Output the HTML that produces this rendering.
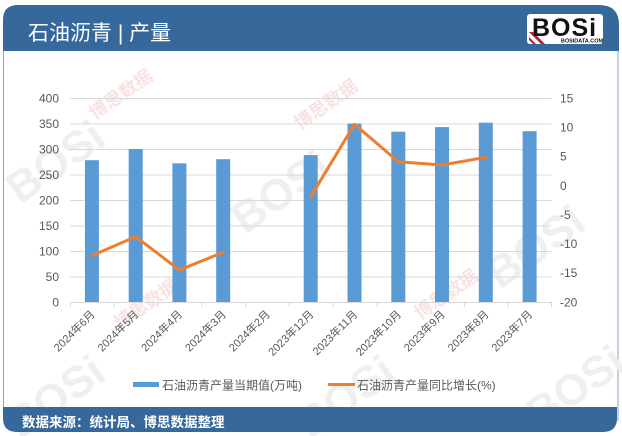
<!DOCTYPE html>
<html>
<head>
<meta charset="utf-8">
<style>
  html,body{margin:0;padding:0;background:#fff;}
  body{width:622px;height:436px;overflow:hidden;}
  svg{display:block;}
  text{font-family:"Liberation Sans","Noto Sans CJK SC",sans-serif;}
</style>
</head>
<body>
<svg width="622" height="436" viewBox="0 0 622 436" xmlns="http://www.w3.org/2000/svg">
  <!-- frame white area -->
  <rect x="3.5" y="40" width="614.5" height="380" fill="#ffffff" stroke="#8aa4c4" stroke-width="1"/>

  <!-- watermarks -->
  <g fill="#efefef" font-weight="bold" font-size="44" font-family="Liberation Sans, sans-serif">
    <text transform="translate(20,205) rotate(-35)">BOSi</text>
    <text transform="translate(245,235) rotate(-35)">BOSi</text>
    <text transform="translate(500,290) rotate(-35)">BOSi</text>
    <text transform="translate(20,440) rotate(-35)">BOSi</text>
    <text transform="translate(310,440) rotate(-35)">BOSi</text>
    <text transform="translate(540,430) rotate(-35)">BOSi</text>
  </g>
  <g fill="#f8e2e2" font-size="18" font-weight="bold">
    <text transform="translate(95,120) rotate(-35)">博思数据</text>
    <text transform="translate(300,130) rotate(-35)">博思数据</text>
    <text transform="translate(420,320) rotate(-35)">博思数据</text>
    <text transform="translate(120,330) rotate(-35)">博思数据</text>
  </g>

  <!-- header -->
  <path d="M3,51 L3,20 Q3,5 18,5 L599,5 Q619,5 619,25 L619,51 Z" fill="#36689b"/>
  <text x="28" y="40" font-size="21" fill="#ffffff">石油沥青 | 产量</text>

  <!-- logo -->
  <rect x="527" y="14" width="76" height="30" rx="3" fill="#ffffff"/>
  <g fill="#b5252e">
    <polygon points="529,32 533,32 545,44 541,44"/>
    <polygon points="529,37 529,40 533,44 536,44"/>
  </g>
  <text x="532" y="36" font-size="25" font-weight="bold" fill="#111" font-family="Liberation Sans, sans-serif" letter-spacing="1">BOSi</text>
  <text x="582" y="42.5" font-size="5.5" font-weight="bold" fill="#111" text-anchor="middle" font-family="Liberation Sans, sans-serif">BOSIDATA.COM</text>

  <!-- footer -->
  <path d="M3,407 L617,407 L617,418 Q617,432 603,432 L17,432 Q3,432 3,418 Z" fill="#36689b"/>
  <text x="22" y="427" font-size="13.5" font-weight="bold" fill="#ffffff">数据来源：统计局、博思数据整理</text>

  <!-- gridlines -->
  <g stroke="#d9d9d9" stroke-width="1">
    <line x1="70" y1="98.5" x2="551.5" y2="98.5"/>
    <line x1="70" y1="124" x2="551.5" y2="124"/>
    <line x1="70" y1="149.5" x2="551.5" y2="149.5"/>
    <line x1="70" y1="175" x2="551.5" y2="175"/>
    <line x1="70" y1="200.5" x2="551.5" y2="200.5"/>
    <line x1="70" y1="226" x2="551.5" y2="226"/>
    <line x1="70" y1="251.5" x2="551.5" y2="251.5"/>
    <line x1="70" y1="277" x2="551.5" y2="277"/>
  </g>

  <!-- bars -->
  <g fill="#5b9bd5">
    <rect x="84.9" y="160.2" width="14" height="141.8"/>
    <rect x="128.7" y="149" width="14" height="153"/>
    <rect x="172.4" y="163.3" width="14" height="138.7"/>
    <rect x="216.2" y="159.2" width="14" height="142.8"/>
    <rect x="303.7" y="155.1" width="14" height="146.9"/>
    <rect x="347.5" y="123.5" width="14" height="178.5"/>
    <rect x="391.3" y="131.7" width="14" height="170.3"/>
    <rect x="435" y="127.1" width="14" height="174.9"/>
    <rect x="478.8" y="122.7" width="14" height="179.3"/>
    <rect x="522.6" y="131.2" width="14" height="170.8"/>
  </g>

  <!-- x axis -->
  <g stroke="#d9d9d9" stroke-width="1">
    <line x1="70" y1="302.5" x2="551.5" y2="302.5"/>
    <line x1="70.5" y1="302" x2="70.5" y2="307"/>
    <line x1="114.3" y1="302" x2="114.3" y2="307"/>
    <line x1="158" y1="302" x2="158" y2="307"/>
    <line x1="201.8" y1="302" x2="201.8" y2="307"/>
    <line x1="245.6" y1="302" x2="245.6" y2="307"/>
    <line x1="289.3" y1="302" x2="289.3" y2="307"/>
    <line x1="333.1" y1="302" x2="333.1" y2="307"/>
    <line x1="376.9" y1="302" x2="376.9" y2="307"/>
    <line x1="420.7" y1="302" x2="420.7" y2="307"/>
    <line x1="464.4" y1="302" x2="464.4" y2="307"/>
    <line x1="508.2" y1="302" x2="508.2" y2="307"/>
    <line x1="551.5" y1="302" x2="551.5" y2="307"/>
  </g>

  <!-- line series -->
  <g fill="none" stroke="#ed7d31" stroke-width="3" stroke-linejoin="round" stroke-linecap="round">
    <polyline points="91.9,255.7 135.7,236.7 179.4,270 223.2,252.3"/>
    <polyline points="310.7,196.7 354.5,124.3 398.3,161.7 442,165 485.8,157.3"/>
  </g>

  <!-- left axis labels -->
  <g font-size="12" fill="#595959" text-anchor="end">
    <text x="59" y="102.5">400</text>
    <text x="59" y="128">350</text>
    <text x="59" y="153.5">300</text>
    <text x="59" y="179">250</text>
    <text x="59" y="204.5">200</text>
    <text x="59" y="230">150</text>
    <text x="59" y="255.5">100</text>
    <text x="59" y="281">50</text>
    <text x="59" y="306.5">0</text>
  </g>

  <!-- right axis labels -->
  <g font-size="12" fill="#595959" text-anchor="start">
    <text x="560" y="102.5">15</text>
    <text x="560" y="131.5">10</text>
    <text x="560" y="160.5">5</text>
    <text x="560" y="190">0</text>
    <text x="560" y="219">-5</text>
    <text x="560" y="248">-10</text>
    <text x="560" y="277">-15</text>
    <text x="560" y="306.5">-20</text>
  </g>

  <!-- x labels -->
  <g font-size="11" fill="#595959" text-anchor="end">
    <text transform="translate(95.5,315) rotate(-45)">2024年6月</text>
    <text transform="translate(139.3,315) rotate(-45)">2024年5月</text>
    <text transform="translate(183,315) rotate(-45)">2024年4月</text>
    <text transform="translate(226.8,315) rotate(-45)">2024年3月</text>
    <text transform="translate(270.6,315) rotate(-45)">2024年2月</text>
    <text transform="translate(314.3,315) rotate(-45)">2023年12月</text>
    <text transform="translate(358.1,315) rotate(-45)">2023年11月</text>
    <text transform="translate(401.9,315) rotate(-45)">2023年10月</text>
    <text transform="translate(445.6,315) rotate(-45)">2023年9月</text>
    <text transform="translate(489.4,315) rotate(-45)">2023年8月</text>
    <text transform="translate(533.2,315) rotate(-45)">2023年7月</text>
  </g>

  <!-- legend -->
  <rect x="133" y="382" width="26" height="5" fill="#5b9bd5"/>
  <text x="162" y="389.5" font-size="12" fill="#595959">石油沥青产量当期值(万吨)</text>
  <line x1="328" y1="384.5" x2="355" y2="384.5" stroke="#ed7d31" stroke-width="3"/>
  <text x="357" y="389.5" font-size="12" fill="#595959">石油沥青产量同比增长(%)</text>
</svg>
</body>
</html>
